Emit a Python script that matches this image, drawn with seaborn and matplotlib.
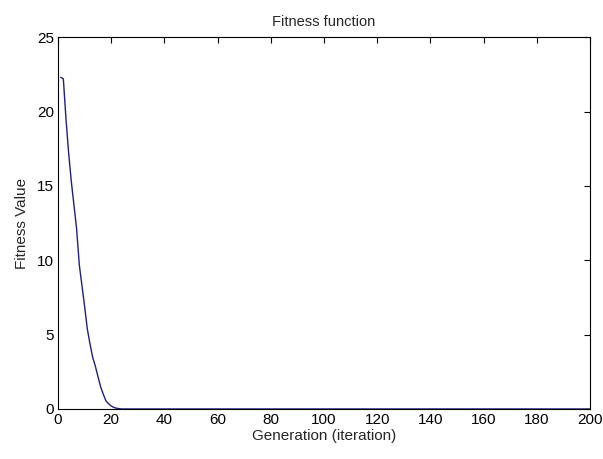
import seaborn as sns
import matplotlib.pyplot as plt
import pandas as pd

# fitness values, generation 1 onwards
head_values = [22.3, 22.2, 19.5, 17.2, 15.3, 13.7, 12.1, 9.7, 8.3, 6.9,
               5.4, 4.4, 3.5, 2.9, 2.2, 1.5, 1.0, 0.55, 0.35, 0.2,
               0.1, 0.05, 0.02]
# after about generation 24 the curve sits on zero up to 200
tail_values = [0.0] * (200 - len(head_values))

generations = list(range(1, 201))
fitness = head_values + tail_values

x_ticks = [0, 20, 40, 60, 80, 100, 120, 140, 160, 180, 200]
y_ticks = [0, 5, 10, 15, 20, 25]

sns.set_style("white")
plt.rcParams['font.family'] = ['Liberation Sans Narrow', 'Liberation Sans', 'DejaVu Sans']

data_frame = pd.DataFrame({'Generation': generations, 'Fitness': fitness})

fig = plt.figure(figsize=(6.03, 4.59), dpi=100)
ax = fig.add_axes([0.0962, 0.109, 0.8822, 0.810])

sns.lineplot(data=data_frame, x='Generation', y='Fitness', ax=ax,
             color='#1f1f80', linewidth=1.0)

ax.set_xlim(0, 200)
ax.set_ylim(0, 25)
ax.set_xticks(x_ticks)
ax.set_yticks(y_ticks)
ax.tick_params(direction='in', length=4, width=0.8, top=True, right=True,
               labelsize=11, colors='black', pad=3)
for spine in ax.spines.values():
    spine.set_color('black')
    spine.set_linewidth(0.8)

ax.set_title('Fitness function', fontsize=10.5, pad=8)
ax.set_xlabel('Generation (iteration)', fontsize=11, labelpad=1)
ax.set_ylabel('Fitness Value', fontsize=11, labelpad=6)

fig.savefig('out.png', dpi=100)
